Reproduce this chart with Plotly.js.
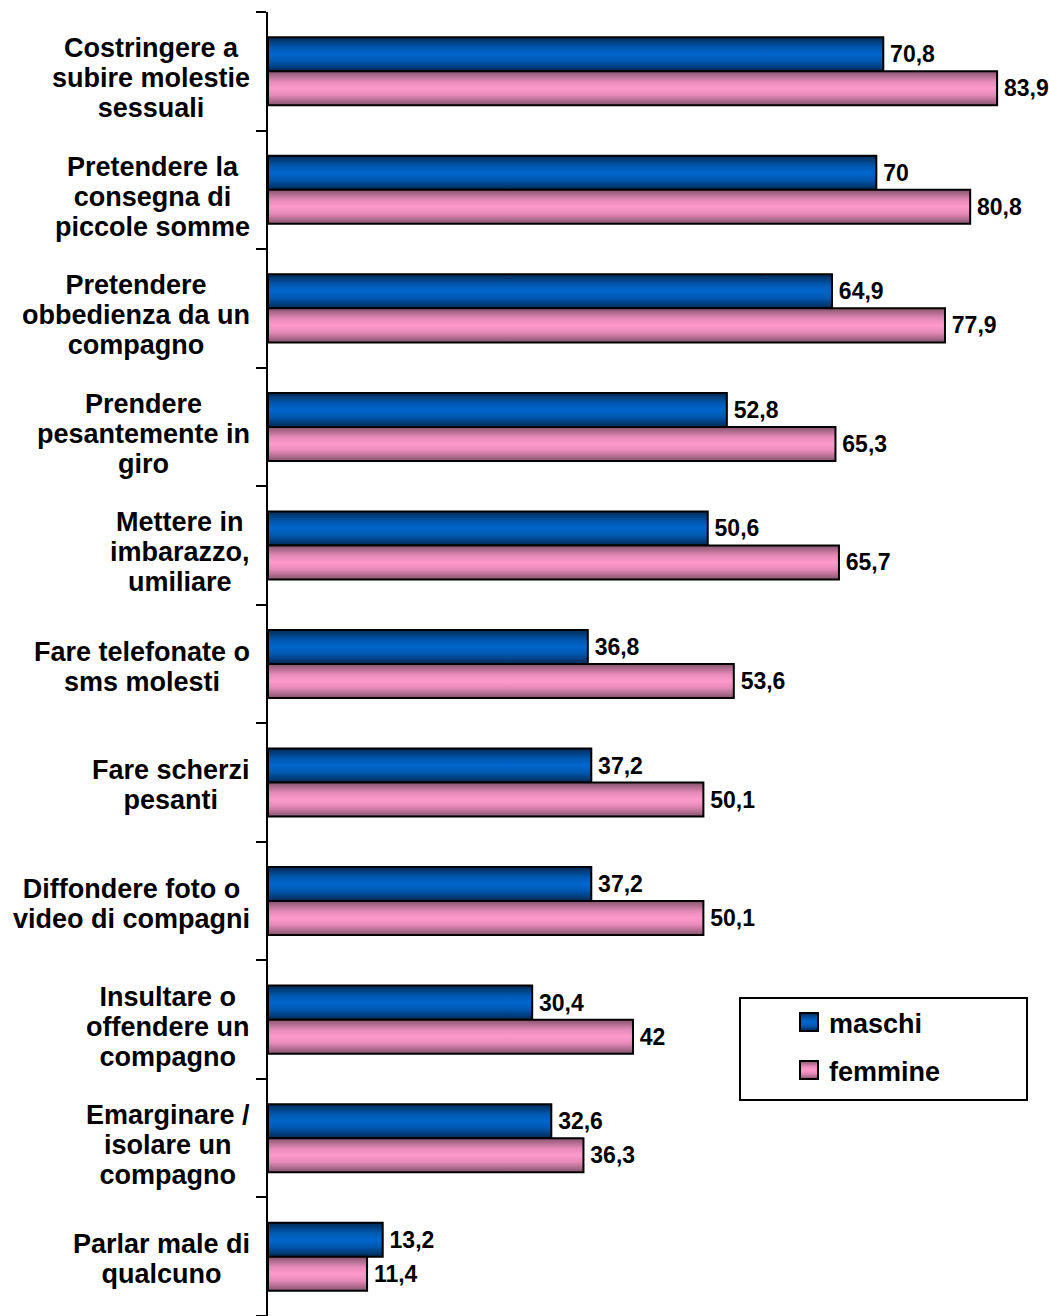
<!DOCTYPE html>
<html>
<head>
<meta charset="utf-8">
<script src="https://cdn.plot.ly/plotly-3.0.1.min.js"></script>
<style>
  html, body { margin: 0; padding: 0; background: #ffffff; }
  #chart { width: 1049px; height: 1316px; }
</style>
</head>
<body>
<div id="chart"></div>
<script>
var categories = [
  "Costringere a<br>subire molestie<br>sessuali",
  "Pretendere la<br>consegna di<br>piccole somme",
  "Pretendere<br>obbedienza da un<br>compagno",
  "Prendere<br>pesantemente in<br>giro",
  "Mettere in<br>imbarazzo,<br>umiliare",
  "Fare telefonate o<br>sms molesti",
  "Fare scherzi<br>pesanti",
  "Diffondere foto o<br>video di compagni",
  "Insultare o<br>offendere un<br>compagno",
  "Emarginare /<br>isolare un<br>compagno",
  "Parlar male di<br>qualcuno"
];
var maschi  = [70.8, 70, 64.9, 52.8, 50.6, 36.8, 37.2, 37.2, 30.4, 32.6, 13.2];
var femmine = [83.9, 80.8, 77.9, 65.3, 65.7, 53.6, 50.1, 50.1, 42, 36.3, 11.4];
var seriesNames = ["maschi", "femmine"];

var FONT = "Liberation Sans, Arial, Helvetica, sans-serif";
var CAT_FS = 27, LINE_PX = 30;
function fmt(v) { return '\u2006' + String(v).replace('.', ','); }

function barTrace(name, vals, color, legendId) {
  return {
    type: 'bar', orientation: 'h', name: name, legend: legendId,
    y: categories.map(function (c, i) { return i; }),
    x: vals,
    text: vals.map(fmt),
    textposition: 'outside',
    constraintext: 'none',
    cliponaxis: false,
    textfont: { family: FONT, size: 23, color: '#000000', weight: 'bold' },
    marker: { color: color, line: { color: '#000000', width: 2 } },
    hoverinfo: 'none'
  };
}

var data = [
  barTrace(seriesNames[0], maschi, '#0066cc', 'legend'),
  barTrace(seriesNames[1], femmine, '#ff99cc', 'legend2')
];

var annotations = categories.map(function (c, i) {
  var nLines = c.split('<br>').length;
  return {
    xref: 'paper', yref: 'y', x: 0, y: i, xshift: -16,
    yshift: -5 - Math.max(0, nLines - 2) * 7,
    xanchor: 'right', yanchor: 'middle', align: 'center',
    text: c, showarrow: false,
    font: { family: FONT, size: CAT_FS, color: '#000000', weight: 'bold' }
  };
});

var L = 268, W = 1049, H = 1316, T = 12;
var plotW = W - L, plotH = H - T;

function legendAt(topPx) {
  return {
    x: (789 - L) / plotW, y: (H - topPx) / plotH,
    xanchor: 'left', yanchor: 'top',
    bgcolor: 'rgba(0,0,0,0)', borderwidth: 0,
    font: { family: FONT, size: 27, color: '#000000', weight: 'bold' }
  };
}

var layout = {
  width: W, height: H,
  margin: { l: L, r: 0, t: T, b: 0, pad: 0 },
  paper_bgcolor: '#ffffff', plot_bgcolor: '#ffffff',
  barmode: 'group', bargap: 0.426, bargroupgap: 0,
  showlegend: true,
  xaxis: { visible: false, range: [0, 89.87], fixedrange: true },
  yaxis: {
    type: 'linear', range: [categories.length - 0.5, -0.5],
    tickmode: 'array',
    tickvals: categories.map(function (c, i) { return i - 0.5; }).concat([categories.length - 0.5]),
    ticktext: categories.map(function () { return ''; }).concat(['']),
    ticks: 'outside', ticklen: 10, tickwidth: 2, tickcolor: '#000000',
    showline: true, linewidth: 2, linecolor: '#000000',
    showgrid: false, zeroline: false, fixedrange: true
  },
  legend: legendAt(998),
  legend2: legendAt(1046),
  shapes: [{
    type: 'rect', xref: 'paper', yref: 'paper',
    x0: (740 - L) / plotW, x1: (1027 - L) / plotW,
    y0: (H - 1100) / plotH, y1: (H - 998) / plotH,
    line: { color: '#000000', width: 2 }, fillcolor: 'rgba(0,0,0,0)'
  }],
  annotations: annotations
};

Plotly.newPlot('chart', data, layout, { staticPlot: true, displayModeBar: false }).then(function (gd) {
  var ns = 'http://www.w3.org/2000/svg';
  var svg = gd.querySelector('svg.main-svg');
  var defs = svg.querySelector('defs');
  if (!defs) { defs = document.createElementNS(ns, 'defs'); svg.insertBefore(defs, svg.firstChild); }
  function grad(id, stops) {
    var g = document.createElementNS(ns, 'linearGradient');
    g.setAttribute('id', id);
    g.setAttribute('x1', '0'); g.setAttribute('y1', '0');
    g.setAttribute('x2', '0'); g.setAttribute('y2', '1');
    stops.forEach(function (s) {
      var st = document.createElementNS(ns, 'stop');
      st.setAttribute('offset', s[0]);
      st.setAttribute('stop-color', s[1]);
      g.appendChild(st);
    });
    defs.appendChild(g);
  }
  grad('gbar0', [[0, '#002a55'], [0.3, '#0058b0'], [0.5, '#0066cc'], [0.7, '#0058b0'], [1, '#002a55']]);
  grad('gbar1', [[0, '#85546e'], [0.3, '#e58ab8'], [0.5, '#ff99cc'], [0.7, '#e58ab8'], [1, '#85546e']]);
  gd.querySelectorAll('.barlayer .trace').forEach(function (t, i) {
    t.querySelectorAll('path').forEach(function (p) { p.style.fill = 'url(#gbar' + i + ')'; });
  });
  gd.querySelectorAll('.legendpoints').forEach(function (lp, i) {
    lp.querySelectorAll('path').forEach(function (p) {
      p.setAttribute('d', 'M9,9H-9V-9H9Z');
      p.style.fill = 'url(#gbar' + i + ')';
    });
  });
  // tighten line spacing of multi-line category labels
  var factor = LINE_PX / (1.3 * CAT_FS);
  gd.querySelectorAll('.annotation-text').forEach(function (txt) {
    txt.querySelectorAll('tspan.line').forEach(function (tl) {
      var dy = tl.getAttribute('dy');
      if (dy && dy.indexOf('em') > 0) {
        tl.setAttribute('dy', (parseFloat(dy) * factor) + 'em');
      }
    });
  });
});
</script>
</body>
</html>
